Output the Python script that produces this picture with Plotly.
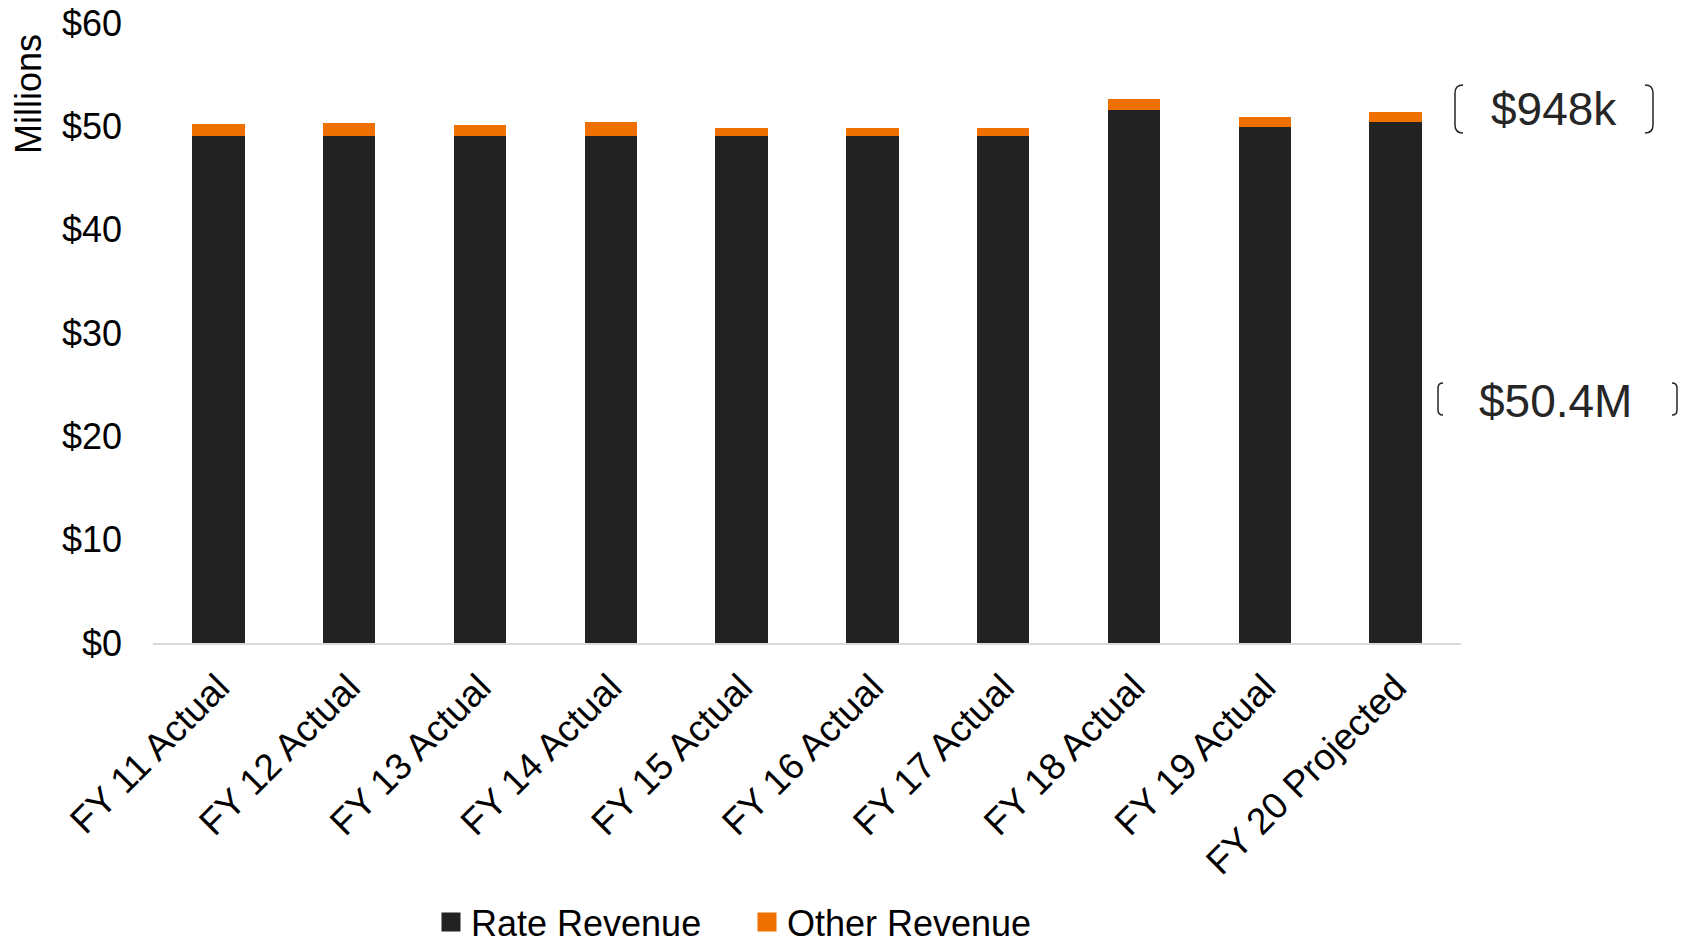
import plotly.graph_objects as go

categories = ["FY 11 Actual", "FY 12 Actual", "FY 13 Actual", "FY 14 Actual", "FY 15 Actual",
              "FY 16 Actual", "FY 17 Actual", "FY 18 Actual", "FY 19 Actual", "FY 20 Projected"]
rate_revenue = [49.05, 49.05, 49.05, 49.05, 49.05, 49.05, 49.05, 51.6, 49.95, 50.4]
other_revenue = [1.15, 1.25, 1.05, 1.35, 0.75, 0.75, 0.8, 1.0, 0.95, 0.948]
y_ticks = [0, 10, 20, 30, 40, 50, 60]
y_tick_labels = ["$0", "$10", "$20", "$30", "$40", "$50", "$60"]
callouts = ["$948k", "$50.4M"]
series_names = ["Rate Revenue", "Other Revenue"]
series_colors = ["#222222", "#EE7100"]

W, H = 1682, 946
L, R, T, B = 153, 221, 23, 303
PW, PH = W - L - R, H - T - B
FONT = "Liberation Sans, Arial, sans-serif"


def px(x):
    return (x - L) / PW


def py(y):
    return (H - B - y) / PH


fig = go.Figure()
for vals, name, color in zip([rate_revenue, other_revenue], series_names, series_colors):
    fig.add_trace(go.Bar(x=categories, y=vals, name=name, showlegend=False,
                         marker=dict(color=color, line=dict(width=0))))
# legend-only entries with larger square swatches
for name, color in zip(series_names, series_colors):
    fig.add_trace(go.Scatter(x=[None], y=[None], mode="markers", name=name,
                             marker=dict(symbol="square", size=16, color=color,
                                         line=dict(color=color, width=3))))


def bracket(x0, x1, y0, y1, w):
    r = min(w, (y1 - y0) / 3)
    left = (f"M{px(x0 + w)},{py(y0)} Q{px(x0)},{py(y0)} {px(x0)},{py(y0 + r)} "
            f"L{px(x0)},{py(y1 - r)} Q{px(x0)},{py(y1)} {px(x0 + w)},{py(y1)}")
    right = (f"M{px(x1 - w)},{py(y0)} Q{px(x1)},{py(y0)} {px(x1)},{py(y0 + r)} "
             f"L{px(x1)},{py(y1 - r)} Q{px(x1)},{py(y1)} {px(x1 - w)},{py(y1)}")
    return [left, right]


shapes = []
for p in bracket(1455, 1653, 85, 133, 8) + bracket(1438, 1677, 383, 415, 5):
    shapes.append(dict(type="path", path=p, xref="paper", yref="paper",
                       line=dict(color="#262626", width=1.5)))

annotations = [
    dict(text=callouts[0], x=px(1554), y=py(109), xref="paper", yref="paper",
         showarrow=False, xanchor="center", yanchor="middle",
         font=dict(family=FONT, size=46, color="#262626")),
    dict(text=callouts[1], x=px(1555), y=py(401), xref="paper", yref="paper",
         showarrow=False, xanchor="center", yanchor="middle",
         font=dict(family=FONT, size=46, color="#262626")),
    dict(text="Millions", x=px(29), y=py(94), xref="paper", yref="paper",
         showarrow=False, textangle=-90, xanchor="center", yanchor="middle",
         font=dict(family=FONT, size=36, color="#000000")),
]

fig.update_layout(
    width=W, height=H,
    barmode="stack", bargap=0.6,
    margin=dict(l=L, r=R, t=T, b=B, autoexpand=False),
    plot_bgcolor="white", paper_bgcolor="white",
    font=dict(family=FONT, size=36, color="#000000"),
    showlegend=True,
    legend=dict(orientation="h", x=px(431), y=py(922), xanchor="left", yanchor="middle",
                font=dict(family=FONT, size=36, color="#000000"),
                entrywidth=271, entrywidthmode="pixels",
                itemsizing="trace", traceorder="normal", bgcolor="rgba(0,0,0,0)"),
    shapes=shapes,
    annotations=annotations,
    xaxis=dict(showgrid=False, showline=True, linecolor="#d9d9d9", linewidth=1.5,
               tickangle=-45, ticks="", automargin=False, ticklabelstandoff=6,
               tickfont=dict(family=FONT, size=37, color="#000000")),
    yaxis=dict(range=[0, 60], tickvals=y_ticks, ticktext=y_tick_labels, showgrid=False,
               showline=False, zeroline=False, ticks="", automargin=False,
               ticklabelstandoff=30,
               tickfont=dict(family=FONT, size=36, color="#000000")),
)

fig.write_html("out.html", config={"displayModeBar": False},
               post_script="document.body.style.margin='0';document.body.style.overflow='hidden';")
